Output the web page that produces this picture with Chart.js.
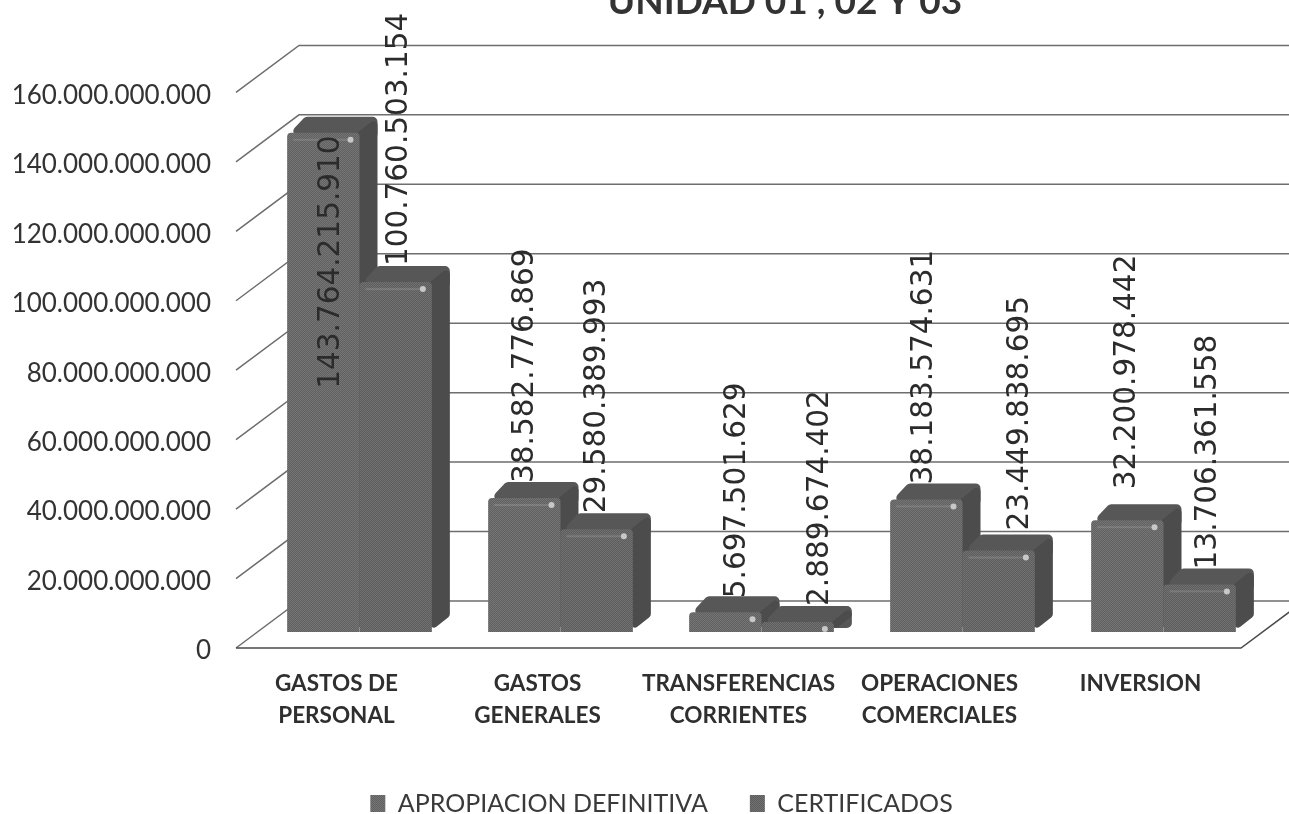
<!DOCTYPE html>
<html>
<head>
<meta charset="utf-8">
<title>Unidad 01, 02 y 03</title>
<script src="https://cdn.jsdelivr.net/npm/chart.js@4"></script>
<style>
  html, body { margin: 0; background: #fff; overflow: hidden; }
  #wrap { position: relative; width: 1289px; height: 814px; overflow: hidden; }
  #grafico { position: absolute; left: 0; top: -20px; }
</style>
</head>
<body>
<div id="wrap"><canvas id="grafico" width="1289" height="846"></canvas></div>
<script>
const categorias = [
    ['GASTOS DE', 'PERSONAL'],
    ['GASTOS', 'GENERALES'],
    ['TRANSFERENCIAS', 'CORRIENTES'],
    ['OPERACIONES', 'COMERCIALES'],
    ['INVERSION']
];
const apropiacion = [143764215910, 38582776869, 5697501629, 38183574631, 32200978442];
const certificados = [100760503154, 29580389993, 2889674402, 23449838695, 13706361558];
const nombresSeries = ['APROPIACION DEFINITIVA', 'CERTIFICADOS'];
const titulo = 'UNIDAD 01 , 02 Y 03';

// desplazamientos de la "perspectiva" 3D
const PARED = { x: 63, y: -47 };
const BARRAS = { x: 23, y: -16 };
const FONDO = { x: 18, y: -16 };

// etiquetas movidas a mano en el original: [dx, dy] por serie y categoria
const AJUSTE_ETIQUETAS = [
    [[6, 271], [-1, 0], [10, 1], [-4, 0], [-2, -16]],
    [[2, -1], [-1, -1], [21, -1], [20, -5], [7, 0]]
];

const formato = v => String(Math.round(v)).replace(/\B(?=(\d{3})+(?!\d))/g, '.');

// trama de la fotocopia: punteado fijo de 2x2
function trama(claro, oscuro) {
    const c = document.createElement('canvas');
    c.width = c.height = 2;
    const g = c.getContext('2d');
    g.fillStyle = claro;
    g.fillRect(0, 0, 2, 2);
    g.fillStyle = oscuro;
    g.fillRect(0, 0, 1, 1);
    g.fillRect(1, 1, 1, 1);
    return g.createPattern(c, 'repeat');
}

// poligono con esquinas redondeadas
function poligono(ctx, puntos, radio) {
    const n = puntos.length;
    ctx.beginPath();
    ctx.moveTo((puntos[0][0] + puntos[n - 1][0]) / 2, (puntos[0][1] + puntos[n - 1][1]) / 2);
    puntos.forEach((p, i) => {
        const sig = puntos[(i + 1) % n];
        ctx.arcTo(p[0], p[1], sig[0], sig[1], radio);
    });
    ctx.closePath();
    ctx.fill();
}

const efecto3d = {
    id: 'efecto3d',
    afterLayout(chart) {
        // titulo y leyenda van corridos a la derecha, como en el original
        chart.titleBlock.left = 785 - 300;
        chart.titleBlock.right = 785 + 300;
        chart.legend.left += 41;
        chart.legend.right += 41;
        // Lato queda alta respecto al centro: bajar los numeros del eje
        chart.scales.y.getLabelItems().forEach(item => { item.options.translation[1] += 3; });
    },
    beforeDatasetsDraw(chart) {
        const ctx = chart.ctx;
        const { left, right } = chart.chartArea;
        const y = chart.scales.y;

        ctx.save();
        ctx.lineWidth = 1.5;
        y.ticks.forEach(t => {
            const py = y.getPixelForValue(t.value);
            ctx.strokeStyle = '#6e6e6e';
            ctx.beginPath();
            ctx.moveTo(left, py);
            ctx.lineTo(left + PARED.x, py + PARED.y);
            ctx.lineTo(chart.width, py + PARED.y);
            ctx.stroke();
        });
        // piso
        const base = y.getPixelForValue(0);
        ctx.strokeStyle = '#4a4a4a';
        ctx.beginPath();
        ctx.moveTo(left, base);
        ctx.lineTo(right, base);
        ctx.lineTo(right + PARED.x, base + PARED.y);
        ctx.stroke();

        // caras laterales y superiores, antes que los frentes
        ctx.translate(BARRAS.x, BARRAS.y);
        [0, 1].forEach(i => {
            chart.getDatasetMeta(i).data.forEach(bar => {
                const izq = bar.x - bar.width / 2, der = bar.x + bar.width / 2;
                ctx.fillStyle = '#575757';
                poligono(ctx, [
                    [izq, bar.y + 3],
                    [izq + FONDO.x, bar.y + FONDO.y],
                    [der + FONDO.x, bar.y + FONDO.y],
                    [der + FONDO.x, bar.y + 6],
                    [der, bar.y + 6]
                ], 5);
                ctx.fillStyle = '#4c4c4c';
                poligono(ctx, [
                    [der - 2, bar.y],
                    [der + FONDO.x, bar.y + FONDO.y],
                    [der + FONDO.x, bar.base + FONDO.y],
                    [der - 2, bar.base]
                ], 4);
            });
        });
        ctx.restore();

        ctx.save();
        ctx.translate(BARRAS.x, BARRAS.y);
    },
    afterDatasetsDraw(chart) {
        const ctx = chart.ctx;
        ctx.restore();

        ctx.save();
        [0, 1].forEach(i => {
            const valores = chart.data.datasets[i].data;
            chart.getDatasetMeta(i).data.forEach((bar, j) => {
                const frenteDer = bar.x + BARRAS.x + bar.width / 2;
                const frenteTop = bar.y + BARRAS.y;
                // franja clara y brillo de la esquina
                if (bar.base - bar.y > 20) {
                    ctx.fillStyle = 'rgba(170,170,170,0.3)';
                    ctx.fillRect(frenteDer - bar.width + 6, frenteTop + 6, bar.width - 15, 2);
                }
                ctx.fillStyle = '#c8c8c8';
                ctx.beginPath();
                ctx.arc(frenteDer - 9, frenteTop + 7, 3, 0, Math.PI * 2);
                ctx.fill();

                const [dx, dy] = AJUSTE_ETIQUETAS[i][j];
                ctx.save();
                ctx.font = '29.5px "DejaVu Sans"';
                ctx.fillStyle = '#2b2b2b';
                ctx.textBaseline = 'middle';
                ctx.textAlign = 'left';
                ctx.translate(bar.x + BARRAS.x + 2 + dx, frenteTop - 15 + dy);
                ctx.rotate(-Math.PI / 2);
                ctx.fillText(formato(valores[j]), 0, 0);
                ctx.restore();
            });
        });
        ctx.restore();
    }
};

new Chart(document.getElementById('grafico'), {
    type: 'bar',
    data: {
        labels: categorias,
        datasets: [
            { label: nombresSeries[0], data: apropiacion, backgroundColor: trama('#767676', '#606060'), borderRadius: { topLeft: 4, topRight: 4 }, borderSkipped: 'bottom' },
            { label: nombresSeries[1], data: certificados, backgroundColor: trama('#727272', '#5c5c5c'), borderRadius: { topLeft: 4, topRight: 4 }, borderSkipped: 'bottom' }
        ]
    },
    options: {
        responsive: false,
        animation: false,
        layout: { padding: { left: 0, right: 48, top: 0, bottom: 0 } },
        datasets: { bar: { categoryPercentage: 0.72, barPercentage: 1 } },
        scales: {
            x: {
                grid: { display: false },
                border: { display: false },
                ticks: {
                    autoSkip: false, maxRotation: 0, minRotation: 0, padding: 12,
                    font: { family: 'Lato', size: 22.5, weight: 'bold', lineHeight: 1.42 },
                    color: '#2f2f2f'
                },
                afterFit(scale) { scale.height = 101; }
            },
            y: {
                min: 0, max: 160000000000,
                grid: { display: false },
                border: { display: false },
                ticks: {
                    stepSize: 20000000000, padding: 17,
                    font: { family: 'Lato', size: 26 },
                    color: '#333',
                    callback: v => formato(v)
                },
                afterFit(scale) { scale.width = 236; }
            }
        },
        plugins: {
            title: {
                display: true, text: titulo, color: '#333',
                font: { family: 'Lato', size: 37, weight: 'bold' },
                padding: { top: 0, bottom: 68 }
            },
            legend: {
                position: 'bottom',
                labels: { boxWidth: 15, boxHeight: 17, padding: 42, color: '#3a3a3a', font: { family: 'Lato', size: 25 } }
            },
            tooltip: { enabled: false }
        }
    },
    plugins: [efecto3d]
});
</script>
</body>
</html>
